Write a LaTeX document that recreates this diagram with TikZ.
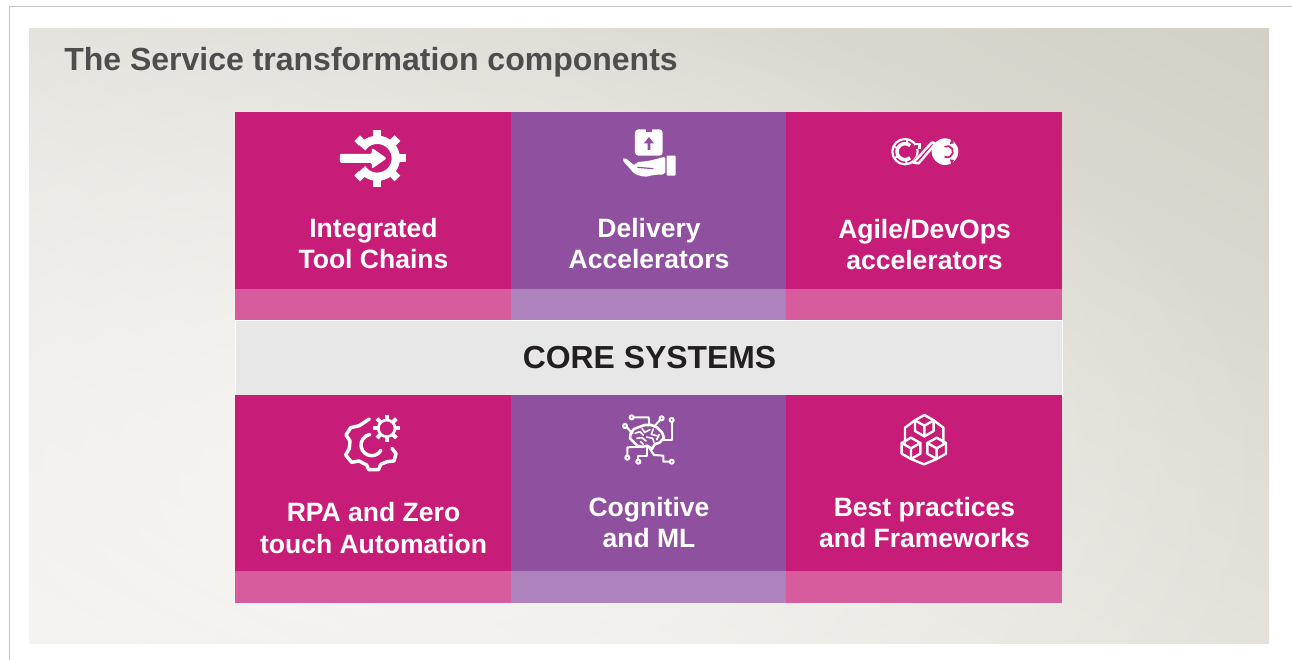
\documentclass[tikz,border=0pt]{standalone}
\usepackage{fontspec}
\setmainfont{Liberation Sans}
\usetikzlibrary{fadings,shadings}
\definecolor{cmag}{HTML}{C71C78}
\definecolor{cpur}{HTML}{8F509F}
\definecolor{cpinkstrip}{HTML}{D65C9E}
\definecolor{cpurstrip}{HTML}{AE82BC}
\definecolor{ccore}{HTML}{E6E7E6}
\definecolor{cframe}{HTML}{C4C4C4}
\definecolor{ctitle}{HTML}{4D4D4D}
\definecolor{ccoretext}{HTML}{231F20}
\definecolor{bgUL}{HTML}{E4E2DC}
\definecolor{bgUR}{HTML}{D3D0C5}
\definecolor{bgLL}{HTML}{F3F2EF}
\definecolor{bgLR}{HTML}{E4E2DB}
\definecolor{bglight}{HTML}{F6F5F2}
\tikzfading[name=softout,inner color=transparent!0,outer color=transparent!100]
\tikzset{
  x=0.75pt,y=-0.75pt,
  cell/.style={draw=none,inner sep=0,outer sep=0,anchor=north west},
  celltext/.style={text=white,font=\bfseries\fontsize{19.9}{23.3}\selectfont,align=center,inner sep=0},
  ic/.style={draw=white,line width=#1,line cap=round,line join=round,fill=none},
  ic/.default=2pt,
}
\newcommand{\cellbox}[6]{\node[cell,fill=#2,minimum width=#5*0.75pt,minimum height=#6*0.75pt] (#1) at (#3,#4) {};}
\newcommand{\cubeat}[2]{%
  \begin{scope}[shift={(#1,#2)}]
    \draw[ic=1.8pt] (0,-32)--(28,-16)--(28,16)--(0,32)--(-28,16)--(-28,-16)--cycle;
    \draw[ic=1.8pt] (-28,-16)--(0,0)--(28,-16) (0,0)--(0,32);
  \end{scope}}
\begin{document}
\begin{tikzpicture}
\useasboundingbox (0,0) rectangle (1292,660);
\fill[white] (0,0) rectangle (1292,660);
\coordinate (fa) at (9.5,660);
\coordinate (fb) at (9.5,6.5);
\coordinate (fc) at (1292,6.5);
\draw[cframe,line width=0.9pt] (fa)--(fb)--(fc);
% background panel
\begin{scope}
  \clip (29,29) rectangle (1269,643);
  \shade[upper left=bgUL,upper right=bgUR,lower left=bgLL,lower right=bgLR] (29,29) rectangle (1269,643);
  \fill[bglight,path fading=softout] (380,480) ellipse [x radius=900,y radius=520];
\end{scope}
% title
\node[anchor=base west,inner sep=0,text=ctitle,font=\bfseries\fontsize{24}{28}\selectfont] (title) at (64,71) {The Service transformation components};
% cells
\cellbox{c1}{cmag}{235}{112}{276}{177}
\cellbox{c2}{cpur}{511}{112}{274.5}{177}
\cellbox{c3}{cmag}{785.5}{112}{276.5}{177}
\cellbox{s1}{cpinkstrip}{235}{289}{276}{31}
\cellbox{s2}{cpurstrip}{511}{289}{274.5}{31}
\cellbox{s3}{cpinkstrip}{785.5}{289}{276.5}{31}
\node[cell,fill=ccore,draw=white,line width=0.5pt,minimum width=827*0.75pt,minimum height=75*0.75pt] (core) at (235,320) {};
\cellbox{c4}{cmag}{235}{395}{276}{176}
\cellbox{c5}{cpur}{511}{395}{274.5}{176}
\cellbox{c6}{cmag}{785.5}{395}{276.5}{176}
\cellbox{s4}{cpinkstrip}{235}{571}{276}{32}
\cellbox{s5}{cpurstrip}{511}{571}{274.5}{32}
\cellbox{s6}{cpinkstrip}{785.5}{571}{276.5}{32}
\node[text=ccoretext,inner sep=0,font=\bfseries\fontsize{23.9}{28}\selectfont] (coretext) at (649.5,358) {CORE SYSTEMS};
% labels
\node[celltext] (t1) at (373.5,243.5) {Integrated\\Tool Chains};
\node[celltext] (t2) at (649,243.5) {Delivery\\Accelerators};
\node[celltext] (t3) at (924.5,244.5) {Agile/DevOps\\accelerators};
\node[celltext] (t4) at (373.5,528) {RPA and Zero\\touch Automation};
\node[celltext] (t5) at (649,522.5) {Cognitive\\and ML};
\node[celltext] (t6) at (924.5,522.5) {Best practices\\and Frameworks};
% icon 1: gear with arrow
\begin{scope}[shift={(377.3,158.3)}]
  \draw[white,line width=6.2pt] (-145:18.5) arc[start angle=-145,end angle=145,radius=18.5];
  \foreach \a in {-135,-90,-45,0,45,90,135}
    \draw[white,line width=6pt,line join=round] (\a:22)--(\a:28.5);
  \fill[white,rounded corners=1pt] (-37.5,-4.5)--(-5.5,-4.5)--(-5.5,-10.5)--(9.5,0)--(-5.5,10.5)--(-5.5,4.5)--(-37.5,4.5)--cycle;
\end{scope}
% icon 2: box on hand
\begin{scope}[shift={(320,115)},scale=0.3333]
  \fill[white,rounded corners=2.5pt] (945,43) rectangle (1028,122);
  \fill[cpur] (977,43) rectangle (995,50);
  \fill[cpur] (987,66)--(1002,85)--(991,85)--(991,105)--(983,105)--(983,85)--(972,85)--cycle;
  \fill[white,rounded corners=0.7pt] (1040,122) rectangle (1067,182);
  \fill[white,rounded corners=1.5pt] (906,134)--(913,127)--(945,152)--(948,142)--(990,137)--(1036,125)--(1036,178)--(1000,180)--(975,186)--(945,178)--cycle;
  \draw[cpur,line width=0.9pt] (952,157)--(1000,161);
\end{scope}
% icon 3: infinity
\begin{scope}[shift={(870,120)},scale=0.3333]
  \draw[white,line width=1.6pt] (105,95) circle[radius=38];
  \draw[white,line width=2.6pt] ([shift={(50:24)}]105,95) arc[start angle=50,end angle=310,radius=24];
  \draw[white,line width=1.4pt] (70,78)--(84,86) (72,115)--(86,108) (112,56)--(110,72) (108,118)--(110,133);
  \fill[white] (225,95) circle[radius=40];
  \draw[cmag,line width=1.3pt] ([shift={(-120:17)}]232,95) arc[start angle=-120,end angle=120,radius=17];
  \fill[cmag] (244,56)--(240,72)--(252,70)--cycle (244,134)--(240,118)--(252,120)--cycle;
  \draw[cmag,line width=3.6pt] (134,128)--(188,66);
  \fill[cmag] (134,68) rectangle (150,86);
  \draw[white,line width=1.8pt,line join=round] (130,128)--(185,68)--(192,68)--(192,76)--(146,130)--cycle;
  \draw[white,line width=1.8pt] (133,72)--(148,72)--(148,88);
\end{scope}
% icon 4: gears
\begin{scope}[shift={(330,405)},scale=0.3333]
  \draw[ic=2.6pt] (118,42)--(88,62)--(62,68)--(48,90)--(60,108)--(58,130)--(47,150)--(65,172)--(87,168)--(110,180)--(116,194)--(146,194)--(152,178)--(172,170)--(192,168)--(198,146)--(186,130);
  \draw[ic=2.6pt] ([shift={(-100:32)}]125,120) arc[start angle=-100,end angle=-270,radius=32] arc[start angle=90,end angle=30,radius=32];
  \draw[ic=2pt] (170,70) circle[radius=25];
  \foreach \a in {0,45,...,315}
    \draw[white,line width=3pt] ([shift={(\a:25)}]170,70)--([shift={(\a:41)}]170,70);
\end{scope}
% icon 5: brain and circuits
\begin{scope}[shift={(610,405)},scale=0.3333]
  \draw[ic=1.9pt] (72,112)--(60,100)--(62,85)--(72,72)--(88,66)--(104,60)--(124,60)--(142,68)--(156,82)--(162,98)--(150,112)--(134,118)--(126,132)--(112,122)--(96,126)--(82,122)--cycle;
  \draw[ic=1.2pt] (75,85)--(90,80)--(100,90) (96,70)--(104,82)--(120,74) (130,72)--(124,88)--(140,92) (80,100)--(96,98)--(108,108) (110,96)--(128,100)--(132,112) (148,88)--(140,104) (92,110)--(100,118);
  \foreach \p/\r in {65/37,155/40,185/45,45/63,52/158,85/170,185/170}
    \draw[ic=1.5pt] (\p,\r) circle[radius=6];
  \draw[ic=1.5pt] (71,37)--(116,37)--(118,60);
  \draw[ic=1.5pt] (151,44)--(133,64);
  \draw[ic=1.5pt] (185,51)--(185,105)--(158,105);
  \draw[ic=1.5pt] (50,67)--(68,85);
  \draw[ic=1.5pt] (52,152)--(52,127)--(98,125);
  \draw[ic=1.5pt] (85,164)--(85,152)--(112,152)--(112,128);
  \draw[ic=1.5pt] (179,170)--(160,170)--(160,152)--(132,150)--(116,126);
\end{scope}
% icon 6: cubes
\begin{scope}[shift={(885,405)},scale=0.3333]
  \cubeat{118}{62}
  \cubeat{78}{130}
  \cubeat{155}{130}
  \draw[ic=1.8pt] (90,46)--(60,68)--(60,114) (146,46)--(175,68)--(175,114) (78,162)--(117,178)--(155,162);
\end{scope}
\end{tikzpicture}
\end{document}
